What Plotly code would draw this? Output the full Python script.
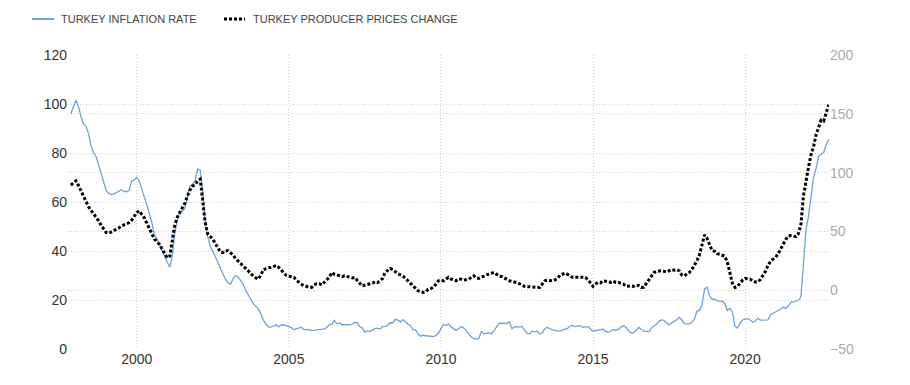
import pandas as pd
import plotly.graph_objects as go

# Monthly observations, Nov 1997 .. Oct 2022 (first-of-month dates)
start_month = "1997-11-01"

inflation_rate = [
    96.0, 99.1,                                                             # 1997 Nov-Dec
    101.5, 99.0, 95.0, 92.0, 91.0, 88.0, 83.0, 80.0, 78.5, 75.0, 71.5, 68.5,  # 1998
    64.5, 63.5, 63.0, 63.2, 63.8, 64.5, 65.0, 64.3, 64.2, 64.8, 68.5, 69.0,   # 1999
    70.0, 68.5, 65.0, 62.0, 59.0, 55.5, 51.5, 46.5, 45.0, 42.5, 40.0, 38.0,   # 2000
    35.5, 33.4, 37.5, 47.0, 52.4, 56.1, 56.3, 57.5, 61.8, 66.5, 67.3, 68.5,   # 2001
    73.5, 73.1, 65.1, 52.7, 46.2, 42.0, 40.0, 38.0, 35.5, 33.0, 30.5, 28.5,   # 2002
    27.0, 26.5, 28.5, 30.0, 29.5, 28.0, 26.5, 24.0, 22.0, 20.0, 18.5, 17.5,   # 2003
    16.2, 14.3, 11.8, 10.2, 9.0, 8.9, 9.6, 10.0, 9.0, 9.9, 9.8, 9.35,         # 2004
    9.2, 8.7, 7.9, 8.2, 8.7, 8.9, 7.8, 7.9, 8.0, 7.5, 7.6, 7.7,               # 2005
    7.9, 8.2, 8.2, 8.8, 9.9, 10.1, 11.7, 10.3, 10.6, 9.9, 9.9, 9.65,          # 2006
    9.9, 10.2, 10.9, 10.7, 9.2, 8.6, 6.9, 7.4, 7.1, 7.7, 8.4, 8.4,            # 2007
    8.2, 9.1, 9.2, 9.7, 10.7, 10.6, 12.1, 11.8, 11.1, 12.0, 10.8, 10.1,       # 2008
    9.5, 7.7, 7.9, 6.1, 5.2, 5.7, 5.4, 5.3, 5.3, 5.1, 5.5, 6.5,               # 2009
    8.2, 10.1, 9.6, 10.2, 9.1, 8.4, 7.6, 8.3, 9.2, 8.6, 7.3, 6.4,             # 2010
    4.9, 4.2, 4.0, 4.3, 7.2, 6.2, 6.3, 6.7, 6.2, 7.7, 9.5, 10.5,              # 2011
    10.6, 10.4, 10.4, 11.1, 8.3, 8.9, 9.1, 8.9, 9.2, 7.8, 6.4, 6.2,           # 2012
    7.3, 7.0, 7.3, 6.1, 6.5, 8.3, 8.9, 8.2, 7.9, 7.7, 7.3, 7.4,               # 2013
    7.75, 7.89, 8.39, 9.38, 9.66, 9.16, 9.32, 9.54, 8.86, 8.96, 9.15, 8.17,   # 2014
    7.24, 7.55, 7.61, 7.91, 8.09, 7.20, 6.81, 7.14, 7.95, 7.58, 8.10, 8.81,   # 2015
    9.58, 8.78, 7.46, 6.57, 6.58, 7.64, 8.79, 8.05, 7.28, 7.16, 7.00, 8.53,   # 2016
    9.22, 10.13, 11.29, 11.87, 11.72, 10.90, 9.79, 10.68, 11.20, 11.90, 12.98, 11.92,  # 2017
    10.35, 10.26, 10.23, 10.85, 12.15, 15.39, 15.85, 17.90, 24.52, 25.24, 21.62, 20.30,  # 2018
    20.35, 19.67, 19.71, 19.50, 18.71, 15.72, 16.65, 15.01, 9.26, 8.55, 10.56, 11.84,  # 2019
    12.15, 12.37, 11.86, 10.94, 11.39, 12.62, 11.76, 11.77, 11.75, 11.89, 14.03, 14.60,  # 2020
    14.97, 15.61, 16.19, 17.14, 16.59, 17.53, 18.95, 19.25, 19.58, 19.89, 21.31, 36.08,  # 2021
    48.69, 54.44, 61.14, 69.97, 73.50, 78.62, 79.60, 80.21, 83.45, 85.51,     # 2022 Jan-Oct
]

producer_prices_change = [
    89.3, 91.0,                                                             # 1997 Nov-Dec
    93.0, 89.0, 84.5, 80.0, 75.5, 71.0, 68.0, 65.0, 62.0, 59.0, 55.0, 51.5,   # 1998
    49.0, 48.5, 49.5, 50.5, 52.0, 53.0, 54.5, 55.5, 56.5, 57.5, 59.5, 63.0,   # 1999
    66.0, 67.5, 64.5, 61.5, 57.0, 52.5, 47.5, 43.5, 41.0, 39.0, 35.0, 31.0,   # 2000
    27.5, 29.0, 40.0, 55.0, 62.0, 66.0, 70.0, 74.0, 80.0, 85.0, 88.5, 89.5,   # 2001
    93.0, 94.5, 78.0, 58.0, 48.0, 45.5, 43.5, 40.0, 36.0, 32.5, 32.0, 33.5,   # 2002
    33.5, 32.0, 30.0, 27.0, 25.0, 23.0, 21.0, 18.5, 16.5, 14.0, 12.0, 10.5,   # 2003
    9.5, 13.0, 17.5, 18.5, 19.0, 19.5, 20.5, 21.0, 19.5, 17.0, 14.5, 12.5,    # 2004
    12.0, 11.5, 11.0, 8.5, 6.5, 5.0, 4.0, 3.0, 2.5, 2.4, 4.5, 5.5,            # 2005
    5.5, 4.5, 6.5, 9.0, 11.0, 15.0, 13.5, 13.0, 12.0, 11.5, 12.2, 11.6,       # 2006
    11.0, 10.5, 10.9, 8.0, 6.0, 3.7, 4.5, 5.2, 5.5, 6.0, 7.1, 6.5,            # 2007
    8.0, 10.0, 15.0, 16.5, 18.5, 17.5, 15.5, 14.0, 13.0, 12.0, 10.0, 8.0,     # 2008
    5.5, 3.7, 1.5, -0.5, -1.2, -1.9, -1.5, 0.9, 1.5, 2.4, 5.0, 8.0,           # 2009
    8.5, 8.0, 9.5, 10.9, 9.5, 8.5, 8.0, 9.5, 9.4, 8.5, 9.0, 9.4,              # 2010
    11.0, 12.2, 10.5, 10.0, 11.0, 12.2, 13.0, 13.7, 14.5, 15.1, 13.5, 12.0,   # 2011
    11.7, 10.5, 8.8, 8.0, 7.5, 7.1, 6.5, 5.5, 4.5, 3.2, 3.0, 2.9,             # 2012
    2.9, 2.6, 2.4, 2.4, 5.2, 8.0, 8.5, 8.0, 8.0, 8.8, 10.0, 12.8,             # 2013
    13.5, 14.5, 13.5, 12.0, 10.9, 11.0, 10.9, 10.9, 10.5, 10.9, 9.0, 6.4,     # 2014
    3.3, 5.3, 6.6, 6.2, 8.0, 7.7, 7.3, 6.6, 7.8, 6.6, 6.6, 5.7,               # 2015
    5.2, 3.3, 3.8, 3.7, 3.3, 4.3, 4.0, 2.4, 2.5, 5.5, 9.0, 12.5,              # 2016
    15.0, 16.0, 16.2, 16.5, 16.0, 15.5, 16.5, 17.5, 17.0, 17.5, 16.5, 13.0,   # 2017
    12.2, 13.7, 15.0, 17.5, 21.0, 25.0, 30.0, 40.0, 47.0, 44.0, 38.5, 33.6,   # 2018
    33.0, 31.0, 30.5, 30.0, 29.0, 24.0, 15.0, 6.0, 2.4, 3.0, 6.0, 8.5,        # 2019
    10.0, 9.5, 9.4, 8.0, 7.0, 7.0, 9.0, 12.5, 16.0, 21.0, 24.5, 26.4,         # 2020
    28.0, 31.0, 35.0, 39.5, 43.0, 46.0, 46.5, 46.0, 45.5, 48.0, 56.0, 80.0,   # 2021
    93.5, 105.0, 115.0, 121.8, 132.0, 138.3, 144.6, 143.8, 151.5, 157.7,      # 2022 Jan-Oct
]

dates = pd.date_range(start_month, periods=len(inflation_rate), freq="MS")

left_ticks = [0, 20, 40, 60, 80, 100, 120]
right_ticks = [-50, 0, 50, 100, 150, 200]
x_tick_years = ["2000", "2005", "2010", "2015", "2020"]

legend_labels = ["TURKEY INFLATION RATE", "TURKEY PRODUCER PRICES CHANGE"]

BLUE = "#6fa3d8"
GRID = "#d0d0d0"
GRID_DASH = "1px,2px"
FONT = "Liberation Sans, Arial, sans-serif"

fig = go.Figure()
fig.add_trace(go.Scatter(
    x=dates, y=inflation_rate, mode="lines", name=legend_labels[0],
    line=dict(color=BLUE, width=1.3), yaxis="y"))
fig.add_trace(go.Scatter(
    x=dates, y=producer_prices_change, mode="lines", name=legend_labels[1],
    line=dict(color="#000000", width=3, dash="3px,2px"), yaxis="y2"))

# page body adds an 8px offset; target plot area on screen: x 68..829, y 55..349
OFF = 8
W, H = 910, 385
L = 68 - OFF
T = 55 - OFF
R = W - (829 - OFF)
B = H - (349 - OFF)
pw, ph = W - L - R, H - T - B


def px_x(p):
    return (p - OFF - L) / pw


def px_y(p):
    return (H - B - (p - OFF)) / ph


fig.update_layout(
    width=W, height=H,
    margin=dict(l=L, r=R, t=T, b=B, autoexpand=False),
    plot_bgcolor="white", paper_bgcolor="white",
    showlegend=False,
    font=dict(family=FONT),
    xaxis=dict(
        type="date", automargin=False,
        range=["1997-09-28", "2022-10-04"],
        tickvals=[pd.Timestamp(y + "-01-01") for y in x_tick_years],
        ticktext=x_tick_years,
        showgrid=True, gridcolor=GRID, griddash=GRID_DASH, gridwidth=1,
        showline=False, zeroline=False, ticks="",
        tickfont=dict(size=14, color="#333333"),
    ),
    yaxis=dict(
        range=[0, 120], tickvals=left_ticks, automargin=False,
        showgrid=True, gridcolor=GRID, griddash=GRID_DASH, gridwidth=1,
        zeroline=False, showline=False, ticks="",
        tickfont=dict(size=14, color="#333333"),
    ),
    yaxis2=dict(
        range=[-50, 200], tickvals=right_ticks, automargin=False,
        overlaying="y", side="right",
        showgrid=True, gridcolor=GRID, griddash=GRID_DASH, gridwidth=1,
        zeroline=False, showline=False, ticks="",
        tickfont=dict(size=14, color="#aaaaaa"),
    ),
)

# custom legend
leg_y = px_y(19)
fig.add_shape(type="line", xref="paper", yref="paper",
              x0=px_x(32), x1=px_x(54), y0=leg_y, y1=leg_y,
              line=dict(color=BLUE, width=2))
fig.add_shape(type="line", xref="paper", yref="paper",
              x0=px_x(224), x1=px_x(245), y0=leg_y, y1=leg_y,
              line=dict(color="#000000", width=3, dash="3px,2px"))
fig.add_annotation(xref="paper", yref="paper", x=px_x(59), y=leg_y,
                   text=legend_labels[0], showarrow=False,
                   xanchor="left", yanchor="middle",
                   font=dict(size=11, color="#444444", family=FONT))
fig.add_annotation(xref="paper", yref="paper", x=px_x(251), y=leg_y,
                   text=legend_labels[1], showarrow=False,
                   xanchor="left", yanchor="middle",
                   font=dict(size=11, color="#444444", family=FONT))

fig.write_html("out.html")
